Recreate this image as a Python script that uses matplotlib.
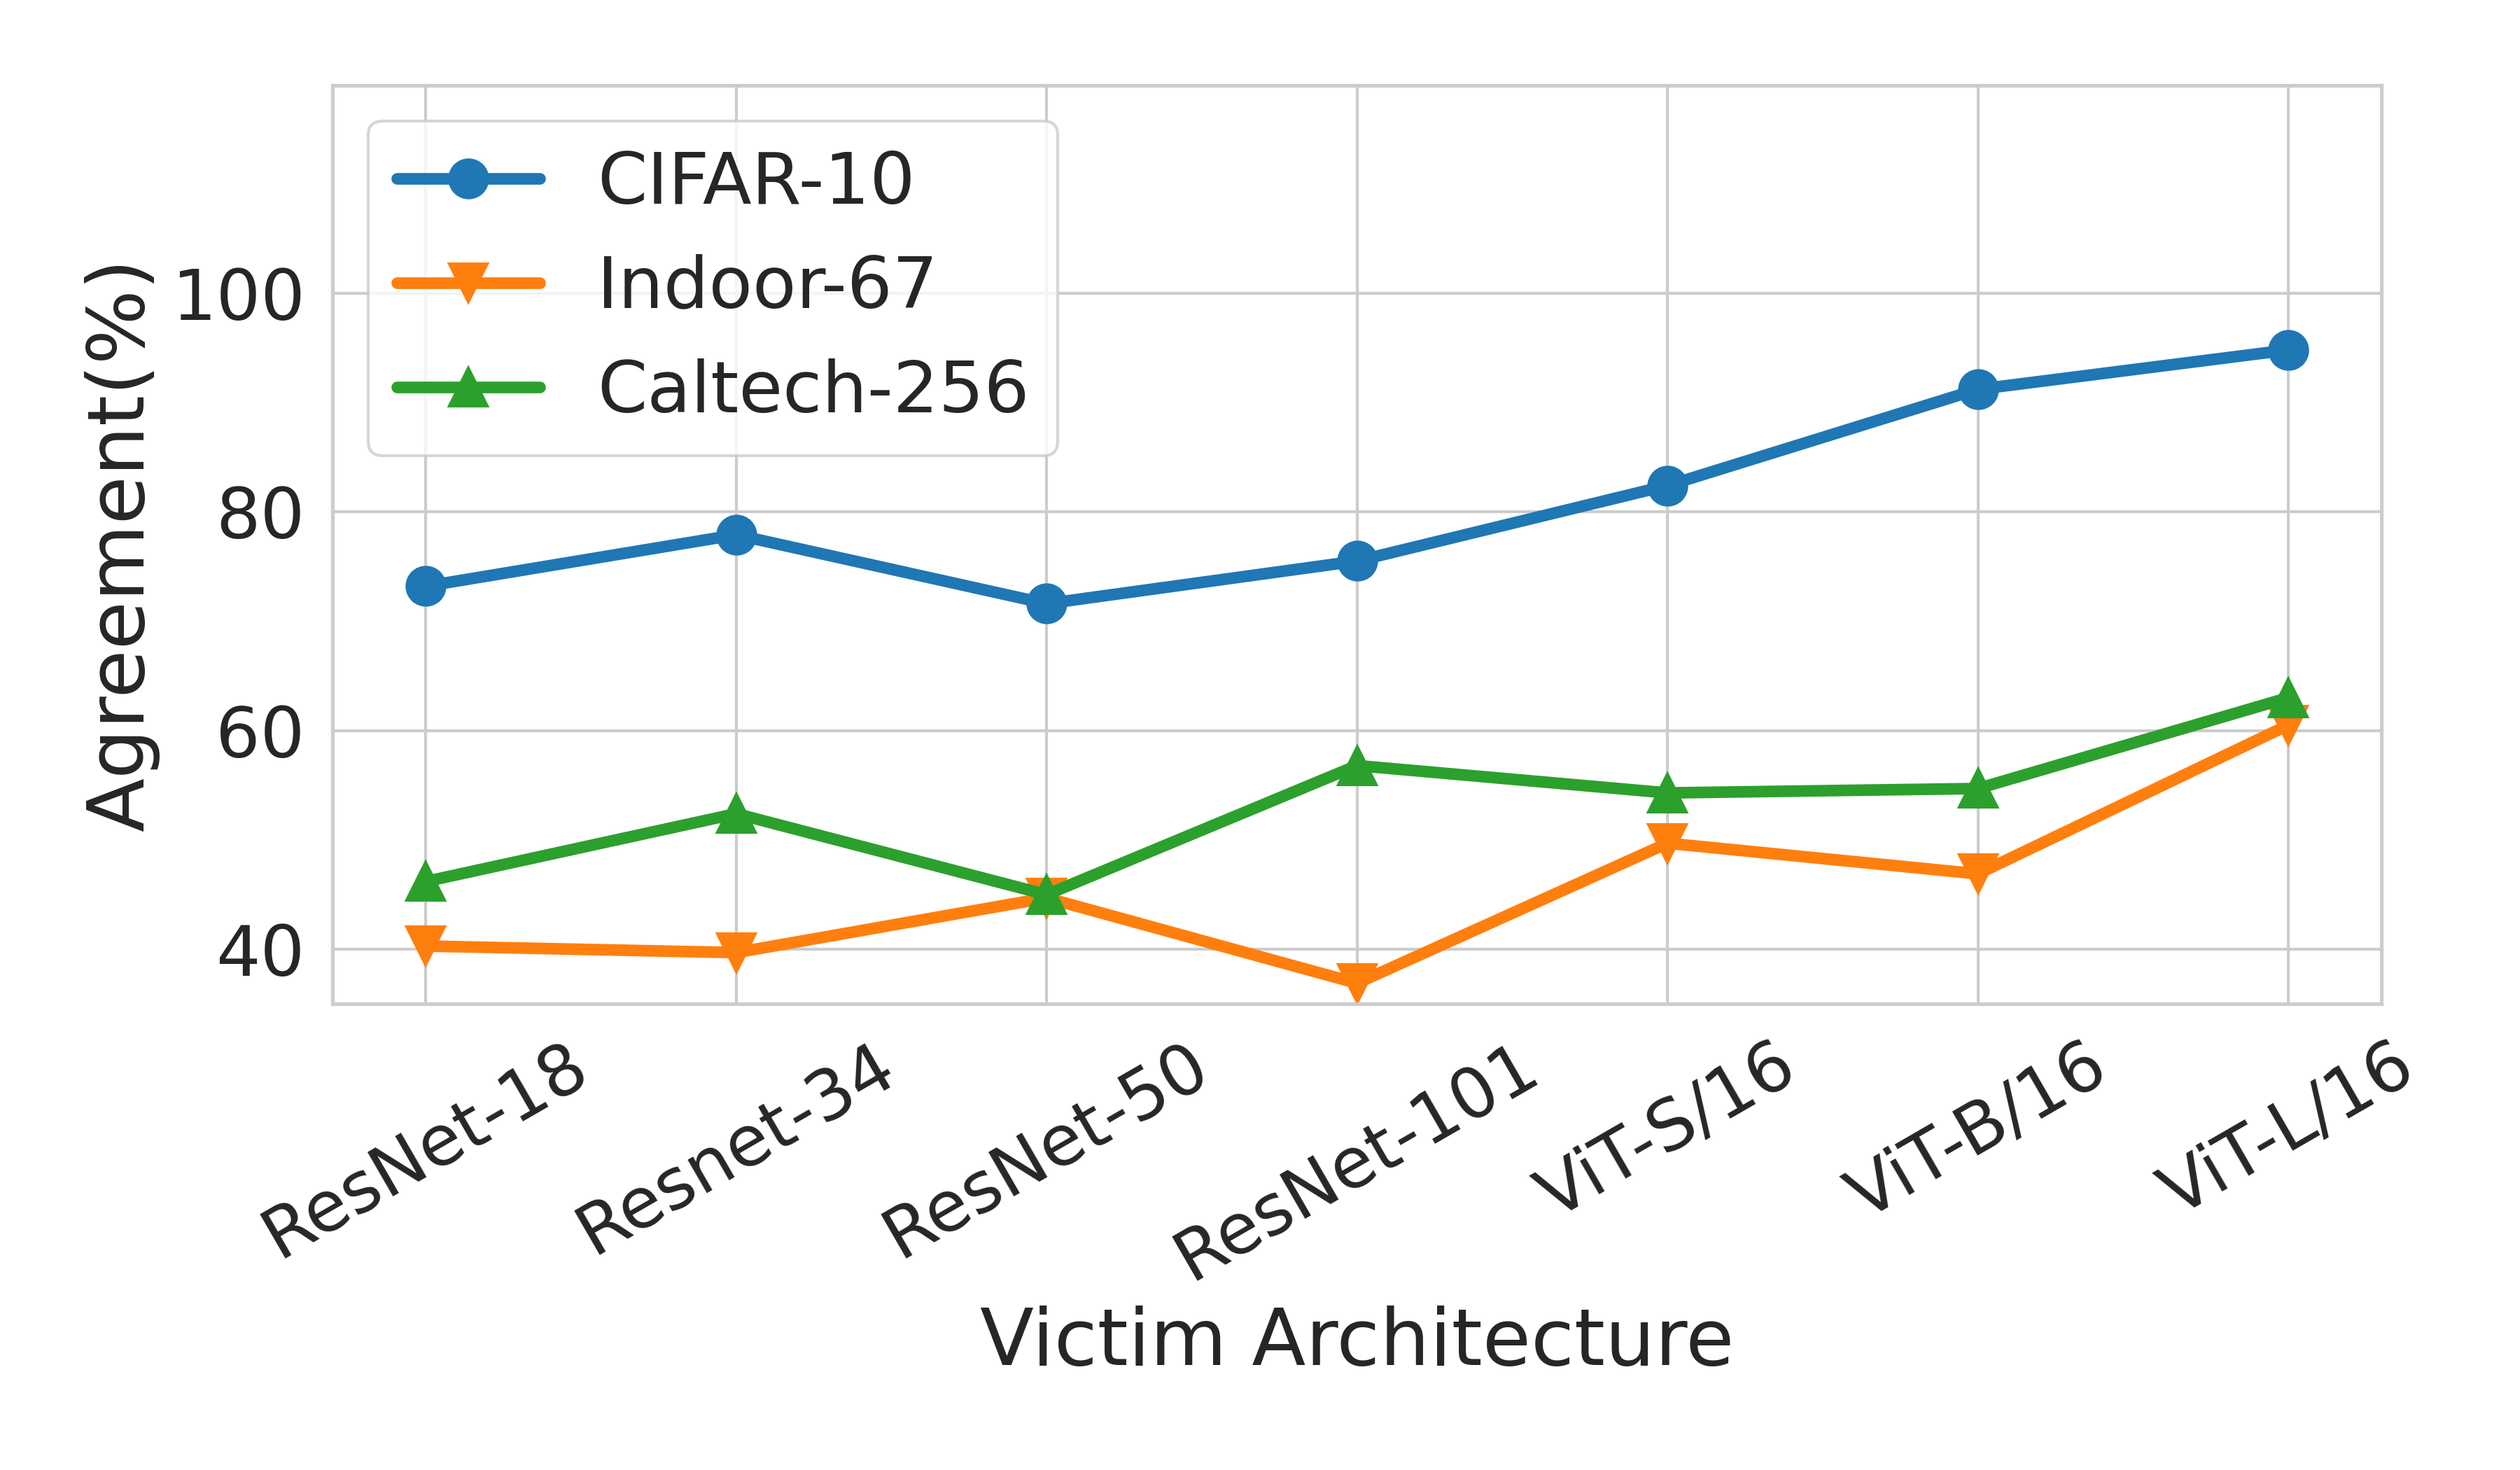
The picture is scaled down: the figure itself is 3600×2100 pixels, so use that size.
import matplotlib
matplotlib.use("Agg")
import matplotlib.pyplot as plt
import seaborn as sns

architectures = ["ResNet-18", "Resnet-34", "ResNet-50", "ResNet-101",
                 "ViT-S/16", "ViT-B/16", "ViT-L/16"]
cifar10 = [73.2, 77.9, 71.6, 75.5, 82.4, 91.2, 94.8]
indoor67 = [40.3, 39.7, 44.7, 36.9, 49.7, 46.9, 60.5]
caltech256 = [46.2, 52.4, 45.0, 56.8, 54.3, 54.7, 63.0]

sns.set_theme(style="whitegrid")
plt.rcParams["font.family"] = ["DejaVu Sans"]

fig, ax = plt.subplots(figsize=(12, 7))
x = range(len(architectures))

ax.plot(x, cifar10, marker="o", color="#1f77b4", linewidth=4,
        markersize=13, label="CIFAR-10")
ax.plot(x, indoor67, marker="v", color="#ff7f0e", linewidth=4,
        markersize=13, label="Indoor-67")
ax.plot(x, caltech256, marker="^", color="#2ca02c", linewidth=4,
        markersize=13, label="Caltech-256")

ax.set_xticks(list(x))
ax.set_xticklabels(architectures, rotation=30, ha="center")
ax.set_yticks([40, 60, 80, 100])
ax.set_ylim(35, 119)
ax.set_xlim(-0.3, 6.3)
ax.tick_params(axis="both", labelsize=24)
ax.set_xlabel("Victim Architecture", fontsize=27)
ax.set_ylabel("Agreement(%)", fontsize=27)
ax.legend(loc="upper left", fontsize=24.5)

fig.subplots_adjust(left=0.132, right=0.945, top=0.942, bottom=0.317)
fig.savefig("out.png", dpi=300)
